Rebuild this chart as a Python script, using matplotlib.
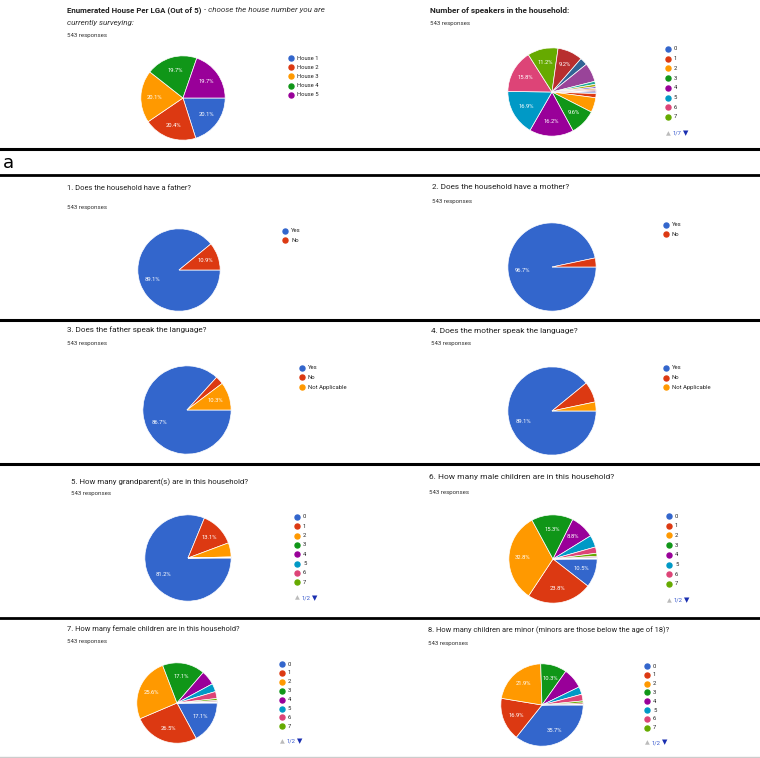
import matplotlib
matplotlib.use('Agg')
import matplotlib.pyplot as plt
from matplotlib.lines import Line2D

plt.rcParams['font.family'] = ['Roboto', 'DejaVu Sans']

W, H = 760, 758

# google charts palette
palette = ['#3366cc', '#dc3912', '#ff9900', '#109618', '#990099', '#0099c6',
           '#dd4477', '#66aa00', '#b82e2e', '#316395', '#994499', '#22aa99',
           '#aaaa11', '#6633cc', '#e67300', '#8b0707', '#651067']

responses = '543 responses'

house_labels = ['House 1', 'House 2', 'House 3', 'House 4', 'House 5']
house_pct = [20.1, 20.4, 20.1, 19.7, 19.7]

count_labels = ['0', '1', '2', '3', '4', '5', '6', '7']
speaker_pct = [0.6, 1.5, 5.4, 9.6, 16.2, 16.9, 15.8, 11.2, 9.2, 2.8, 6.9,
               1.1, 0.9, 0.6, 0.5, 0.4, 0.4]

yes_no = ['Yes', 'No']
yes_no_na = ['Yes', 'No', 'Not Applicable']
father_pct = [89.1, 10.9]
mother_pct = [96.7, 3.3]
father_lang_pct = [86.7, 3.0, 10.3]
mother_lang_pct = [89.1, 7.6, 3.3]
grandparent_pct = [81.2, 13.1, 5.3, 0.2, 0.2]
male_pct = [10.5, 23.8, 32.8, 15.3, 8.8, 4.4, 2.3, 1.1, 0.5, 0.3, 0.2]
female_pct = [17.1, 26.5, 25.6, 17.1, 5.8, 3.3, 2.8, 0.8, 0.5, 0.3, 0.2]
minor_pct = [35.7, 16.9, 21.9, 10.3, 8.0, 3.0, 2.6, 0.8, 0.5, 0.3]

titles = [
    'Enumerated House Per LGA (Out of 5)',
    'Number of speakers in the household:',
    '1. Does the household have a father?',
    '2. Does the household have a mother?',
    '3. Does the father speak the language?',
    '4. Does the mother speak the language?',
    '5. How many grandparent(s) are in this household?',
    '6. How many male children are in this household?',
    '7. How many female children are in this household?',
    '8. How many children are minor (minors are those below the age of 18)?',
]

fig = plt.figure(figsize=(W / 100, H / 100), dpi=100)


def fx(x):
    return x / W


def fy(y):
    return 1 - y / H


def pie(cx, cy, r, vals, n_leg, leg_labels, leg_x, leg_y, leg_dy, pager=None):
    ax = fig.add_axes([fx(cx - r), fy(cy + r), 2 * r / W, 2 * r / H])
    ax.pie(vals, colors=palette[:len(vals)], startangle=0, counterclock=False,
           radius=1, pctdistance=0.68,
           autopct=lambda p: '%.1f%%' % p if p >= 8.5 else '',
           wedgeprops=dict(edgecolor='white', linewidth=0.5),
           textprops=dict(color='white', fontsize=4.2))
    ax.set_xlim(-1.02, 1.02)
    ax.set_ylim(-1.02, 1.02)
    ax.axis('off')
    for i, lab in enumerate(leg_labels[:n_leg]):
        y = leg_y + i * leg_dy
        fig.add_artist(Line2D([fx(leg_x)], [fy(y)], marker='o', markersize=3.6,
                              color=palette[i], transform=fig.transFigure))
        fig.text(fx(leg_x + 6), fy(y), lab, fontsize=4.2, color='#222222',
                 va='center', ha='left')
    if pager:
        y = leg_y + (n_leg - 1) * leg_dy + leg_dy * 1.7
        fig.text(fx(leg_x), fy(y), '\u25B2', fontsize=4.5, color='#bbbbbb',
                 va='center', ha='center', family='DejaVu Sans')
        fig.text(fx(leg_x + 5), fy(y), pager, fontsize=4.2, color='#3355cc',
                 va='center', ha='left')
        fig.text(fx(leg_x + 18), fy(y), '\u25BC', fontsize=5, color='#1a2fb0',
                 va='center', ha='center', family='DejaVu Sans')


def header(x, y_title, y_resp, title, size, bold=False):
    fig.text(fx(x), fy(y_title), title, fontsize=size, color='#222222',
             va='center', ha='left', fontweight='bold' if bold else 'normal')
    fig.text(fx(x), fy(y_resp), responses, fontsize=4.4, color='#333333',
             va='center', ha='left')


# top row
header(67, 10, 35, titles[0], 5.65, bold=True)
fig.text(fx(202), fy(10), ' - choose the house number you are', fontsize=5.75,
         style='italic', color='#333333', va='center')
fig.text(fx(67), fy(22.5), 'currently surveying:', fontsize=5.8,
         style='italic', color='#333333', va='center')
pie(183, 98, 43, house_pct, 5, house_labels, 291, 58, 9.2)

header(430, 10, 24, titles[1], 5.95, bold=True)
pie(552, 92, 45, speaker_pct, 8, count_labels, 668, 49, 9.7, pager='1/7')

# panel letter
fig.text(fx(2.5), fy(163), 'a', fontsize=13, color='black', va='center',
         family='DejaVu Sans')

# row 1
header(67, 188, 208, titles[2], 5.4)
pie(179, 270, 42, father_pct, 2, yes_no, 285, 231, 9.2)
header(432, 187, 201, titles[3], 5.85)
pie(552, 267, 45, mother_pct, 2, yes_no, 666, 225, 9.3)

# row 2
header(67, 330, 344, titles[4], 5.9)
pie(187, 410, 45, father_lang_pct, 3, yes_no_na, 302, 368, 9.5)
header(431, 331, 344, titles[5], 5.95)
pie(552, 411, 45, mother_lang_pct, 3, yes_no_na, 666, 368, 9.7)

# row 3
header(71, 482, 494, titles[6], 5.7)
pie(188, 558, 44, grandparent_pct, 8, count_labels, 297, 517, 9.3, pager='1/2')
header(429, 477, 492, titles[7], 6.05)
pie(553, 559, 45, male_pct, 8, count_labels, 669, 516, 9.7, pager='1/2')

# row 4
header(67, 629, 642, titles[8], 5.4)
pie(177, 703, 41, female_pct, 8, count_labels, 282, 664, 8.9, pager='1/2')
header(428, 630, 643, titles[9], 5.45)
pie(542, 705, 42, minor_pct, 8, count_labels, 647, 666, 8.8, pager='1/2')

# separators
for y, lw, c in [(148.5, 2.2, 'black'), (175, 2.0, 'black'), (319.5, 2.2, 'black'),
                 (464.5, 2.2, 'black'), (618, 2.0, 'black'), (757, 1.0, '#cccccc')]:
    fig.add_artist(Line2D([0, 1], [fy(y), fy(y)], color=c, lw=lw,
                          transform=fig.transFigure))

fig.savefig('out.png', dpi=100, facecolor='white')
